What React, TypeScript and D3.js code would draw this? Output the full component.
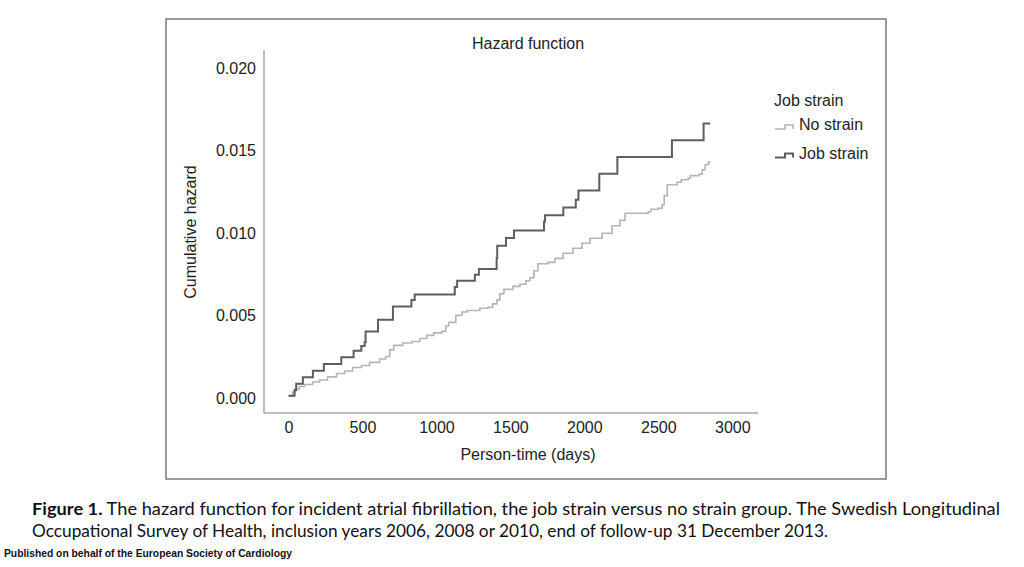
import { useEffect, useRef } from 'react'
import * as d3 from 'd3'

const W = 1024
const H = 567

// step positions (days) and cumulative hazard after each step
const jobStrainDays = [0, 41, 52, 97, 165, 239, 357, 440, 492, 515, 521, 605, 706, 831, 853, 1124, 1140, 1260, 1287, 1407, 1411, 1470, 1524, 1727, 1734, 1858, 1942, 1960, 2101, 2223, 2592, 2806, 2851]
const jobStrainHazard = [0.00014, 0.00049, 0.00087, 0.00126, 0.00166, 0.00207, 0.00247, 0.00287, 0.00316, 0.0034, 0.00403, 0.00474, 0.00555, 0.00594, 0.00628, 0.00673, 0.00711, 0.00747, 0.00782, 0.0085, 0.00923, 0.0097, 0.01016, 0.01071, 0.01109, 0.01156, 0.01203, 0.01258, 0.01361, 0.01462, 0.01563, 0.01665, 0.01665]

const noStrainDays = [0, 27, 47, 74, 108, 163, 210, 264, 325, 379, 433, 494, 548, 616, 657, 684, 711, 772, 833, 887, 934, 982, 1036, 1063, 1083, 1131, 1172, 1205, 1293, 1348, 1381, 1409, 1429, 1456, 1517, 1564, 1605, 1632, 1659, 1686, 1754, 1801, 1856, 1923, 1984, 2038, 2120, 2187, 2241, 2275, 2431, 2451, 2499, 2526, 2540, 2560, 2628, 2655, 2702, 2716, 2777, 2797, 2817, 2838, 2851]
const noStrainHazard = [0.00012, 0.00036, 0.00055, 0.0007, 0.00082, 0.00097, 0.00109, 0.00128, 0.00149, 0.00164, 0.00185, 0.00197, 0.00216, 0.00237, 0.00252, 0.00292, 0.00319, 0.00334, 0.00343, 0.00361, 0.0038, 0.00395, 0.00404, 0.00437, 0.00459, 0.00501, 0.00522, 0.00531, 0.00544, 0.0055, 0.00571, 0.00595, 0.00632, 0.00659, 0.00677, 0.0069, 0.00711, 0.00729, 0.00772, 0.00814, 0.00823, 0.00847, 0.00878, 0.00908, 0.00939, 0.00969, 0.00999, 0.01045, 0.01078, 0.01121, 0.0113, 0.01145, 0.01151, 0.01172, 0.01227, 0.01294, 0.01309, 0.01324, 0.01333, 0.01349, 0.01358, 0.01385, 0.01415, 0.01431, 0.01431]

const xTicks = [0, 500, 1000, 1500, 2000, 2500, 3000]
const yTicks = [0, 0.005, 0.01, 0.015, 0.02]

const seriesNames = ['No strain', 'Job strain']
const seriesColors = ['#b4b4b4', '#5e5e5e']

const axisFont = '"Liberation Sans", Arial, Helvetica, sans-serif'

export default function App() {
	const ref = useRef<SVGSVGElement>(null)

	useEffect(() => {
		const svg = d3.select(ref.current)
		svg.selectAll('*').remove()

		const xScale = d3.scaleLinear().domain([0, 3000]).range([288.5, 732.3])
		const yScale = d3.scaleLinear().domain([0, 0.02]).range([398, 68.3])

		// plot frame lines (left & bottom only)
		const x0 = 264, x1 = 758, yTop = 50, yBot = 413

		svg.append('rect')
			.attr('x', 166).attr('y', 19)
			.attr('width', 720).attr('height', 460)
			.attr('fill', '#fff')
			.attr('stroke', '#7a7a7a')
			.attr('stroke-width', 1.5)

		svg.append('text')
			.attr('x', 528).attr('y', 49)
			.attr('text-anchor', 'middle')
			.attr('font-family', axisFont)
			.attr('font-size', 16)
			.attr('fill', '#222')
			.text('Hazard function')

		// x axis
		svg.append('g')
			.attr('transform', `translate(0, ${yBot})`)
			.call(d3.axisBottom(xScale).tickValues(xTicks).tickSize(0).tickPadding(9).tickFormat(d3.format('d')))
			.call(g => g.select('.domain').remove())
			.call(g => g.selectAll('text').attr('font-family', axisFont).attr('font-size', 16).attr('fill', '#222'))

		// y axis
		svg.append('g')
			.attr('transform', `translate(${256}, 0)`)
			.call(d3.axisLeft(yScale).tickValues(yTicks).tickSize(0).tickPadding(0).tickFormat(d3.format('.3f')))
			.call(g => g.select('.domain').remove())
			.call(g => g.selectAll('text').attr('font-family', axisFont).attr('font-size', 16).attr('fill', '#222'))

		svg.append('line')
			.attr('x1', x0).attr('x2', x0).attr('y1', yTop).attr('y2', yBot)
			.attr('stroke', '#a8a8a8').attr('stroke-width', 1.5)
		svg.append('line')
			.attr('x1', x0).attr('x2', x1).attr('y1', yBot).attr('y2', yBot)
			.attr('stroke', '#a8a8a8').attr('stroke-width', 1.5)

		svg.append('text')
			.attr('x', 528).attr('y', 460)
			.attr('text-anchor', 'middle')
			.attr('font-family', axisFont)
			.attr('font-size', 16)
			.attr('fill', '#222')
			.text('Person-time (days)')

		svg.append('text')
			.attr('transform', `translate(196, 232) rotate(-90)`)
			.attr('text-anchor', 'middle')
			.attr('font-family', axisFont)
			.attr('font-size', 16)
			.attr('fill', '#222')
			.text('Cumulative hazard')

		const line = d3.line<[number, number]>()
			.x(d => xScale(d[0]))
			.y(d => yScale(d[1]))
			.curve(d3.curveStepAfter)

		const noStrain: [number, number][] = noStrainDays.map((d, i) => [d, noStrainHazard[i]])
		const jobStrain: [number, number][] = jobStrainDays.map((d, i) => [d, jobStrainHazard[i]])

		svg.append('path')
			.attr('d', line(noStrain))
			.attr('fill', 'none')
			.attr('stroke', seriesColors[0])
			.attr('stroke-width', 1.6)

		svg.append('path')
			.attr('d', line(jobStrain))
			.attr('fill', 'none')
			.attr('stroke', seriesColors[1])
			.attr('stroke-width', 2)

		// legend
		svg.append('text')
			.attr('x', 774).attr('y', 106)
			.attr('font-family', axisFont)
			.attr('font-size', 16)
			.attr('fill', '#222')
			.text('Job strain')

		seriesNames.forEach((name, i) => {
			const ly = 129 + i * 28.5
			svg.append('path')
				.attr('d', `M775,${ly} H785 V${ly - 4} H793 V${ly}`)
				.attr('fill', 'none')
				.attr('stroke', seriesColors[i])
				.attr('stroke-width', i == 0 ? 1.6 : 2)
			svg.append('text')
				.attr('x', 799).attr('y', ly + 1)
				.attr('font-family', axisFont)
				.attr('font-size', 16)
				.attr('fill', '#222')
				.text(name)
		})

		// caption
		const cap1 = svg.append('text')
			.attr('x', 32).attr('y', 515)
			.attr('font-family', 'Lato, "Open Sans", sans-serif')
			.attr('font-size', 17)
			.attr('fill', '#111')
			.attr('textLength', 968)
			.attr('lengthAdjust', 'spacingAndGlyphs')
		cap1.append('tspan').attr('font-weight', 'bold').text('Figure 1.')
		cap1.append('tspan').text(' The hazard function for incident atrial fibrillation, the job strain versus no strain group. The Swedish Longitudinal')

		svg.append('text')
			.attr('x', 32).attr('y', 537)
			.attr('font-family', 'Lato, "Open Sans", sans-serif')
			.attr('font-size', 17)
			.attr('fill', '#111')
			.attr('textLength', 796)
			.attr('lengthAdjust', 'spacingAndGlyphs')
			.text('Occupational Survey of Health, inclusion years 2006, 2008 or 2010, end of follow-up 31 December 2013.')

		svg.append('text')
			.attr('x', 4).attr('y', 557)
			.attr('font-family', '"Liberation Sans Narrow", "Liberation Sans", sans-serif')
			.attr('font-size', 10.5)
			.attr('font-weight', 'bold')
			.attr('fill', '#111')
			.attr('textLength', 288)
			.attr('lengthAdjust', 'spacingAndGlyphs')
			.text('Published on behalf of the European Society of Cardiology')
	}, [])

	return (
		<div style={{ position: 'absolute', left: 0, top: 0, width: W, height: H, background: '#fff' }}>
			<svg ref={ref} width={W} height={H} />
		</div>
	)
}
